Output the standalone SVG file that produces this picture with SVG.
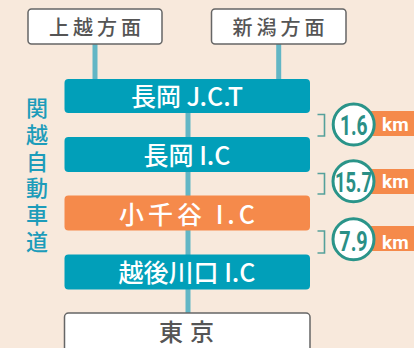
<svg xmlns="http://www.w3.org/2000/svg" width="414" height="348" viewBox="0 0 414 348">
<style>
.wb{fill:#fff;stroke:#666;stroke-width:1.5}
.tb{fill:#019fb9}
.ob{fill:#f58a4b}
.jp{font-family:"Noto Sans CJK JP","Noto Sans",sans-serif}
.gl{fill:#555;font-size:20px;font-weight:500;letter-spacing:4px;text-anchor:middle}
.ml{fill:#fff;font-size:25px;font-weight:500;text-anchor:middle}
.conn{stroke:#62b6c5;stroke-width:5;fill:none}
.brk{stroke:#55a19b;stroke-width:1.6;fill:none}
.circ{fill:#fff;stroke:#2a9489;stroke-width:3}
.num{fill:#2a8f86;font-family:"Roboto","Liberation Sans",sans-serif;font-weight:700;font-size:27.5px;text-anchor:middle}
.km{fill:#fff;font-family:"Roboto","Liberation Sans",sans-serif;font-weight:700;font-size:19px}
.side{fill:#1d9cba;font-size:22px;font-weight:500}
</style>
<rect width="414" height="348" fill="#f8e9dc"/>
<g id="connectors">
<line class="conn" x1="95" y1="44" x2="95" y2="80"/>
<line class="conn" x1="278.7" y1="44" x2="278.7" y2="80"/>
<line class="conn" x1="188" y1="112" x2="188" y2="138"/>
<line class="conn" x1="188" y1="171" x2="188" y2="196"/>
<line class="conn" x1="188" y1="230" x2="188" y2="255"/>
<line class="conn" x1="188" y1="289" x2="188" y2="314"/>
</g>
<g id="joetsu">
<rect class="wb" x="28" y="9" width="134" height="35" rx="3.5"/>
<text class="jp gl" x="97" y="34.5">上越方面</text>
</g>
<g id="niigata">
<rect class="wb" x="211.5" y="9" width="134.5" height="35" rx="3.5"/>
<text class="jp gl" x="280.5" y="34.5">新潟方面</text>
</g>
<g id="nagaoka-jct">
<rect class="tb" x="64.5" y="79" width="245.5" height="34" rx="4"/>
<text class="jp ml" x="187" y="106">長岡 J.C.T</text>
</g>
<g id="nagaoka-ic">
<rect class="tb" x="64.5" y="137" width="245.5" height="35" rx="4"/>
<text class="jp ml" x="187" y="165">長岡 I.C</text>
</g>
<g id="ojiya-ic">
<rect class="ob" x="64.5" y="195.5" width="245.5" height="35" rx="4"/>
<text class="jp ml" x="189" y="223.5" letter-spacing="4">小千谷 I.C</text>
</g>
<g id="echigo-kawaguchi-ic">
<rect class="tb" x="64.5" y="254.5" width="245.5" height="35" rx="4"/>
<text class="jp ml" x="187" y="282">越後川口 I.C</text>
</g>
<g id="tokyo">
<rect class="wb" x="64.5" y="313" width="245.5" height="45" rx="4"/>
<text class="jp" x="190" y="341" fill="#555" font-size="24" font-weight="500" letter-spacing="7" text-anchor="middle">東京</text>
</g>
<g id="expressway-label">
<text class="jp side" x="37" y="97" writing-mode="vertical-rl" letter-spacing="4.7">関越自動車道</text>
</g>
<g id="dist-1">
<path class="brk" d="M317.5 114.5H324.5V136H317.5"/>
<rect class="ob" x="366" y="111" width="50" height="25"/>
<circle class="circ" cx="353.7" cy="124.5" r="20.5"/>
<text class="num" transform="translate(353.7 134.7) scale(0.7 1)">1.6</text>
<text class="km" x="382" y="130.7">km</text>
</g>
<g id="dist-2">
<path class="brk" d="M317.5 173.5H324.5V194H317.5"/>
<rect class="ob" x="366" y="169" width="50" height="25"/>
<circle class="circ" cx="353.5" cy="181.3" r="20.5"/>
<text class="num" transform="translate(353.5 192.2) scale(0.67 1)">15.7</text>
<text class="km" x="382" y="188.3">km</text>
</g>
<g id="dist-3">
<path class="brk" d="M317.5 231H324.5V253H317.5"/>
<rect class="ob" x="366" y="226" width="50" height="25"/>
<circle class="circ" cx="353.5" cy="239.3" r="20.5"/>
<text class="num" transform="translate(353.5 251.2) scale(0.72 1)">7.9</text>
<text class="km" x="382" y="248.7">km</text>
</g>
</svg>
